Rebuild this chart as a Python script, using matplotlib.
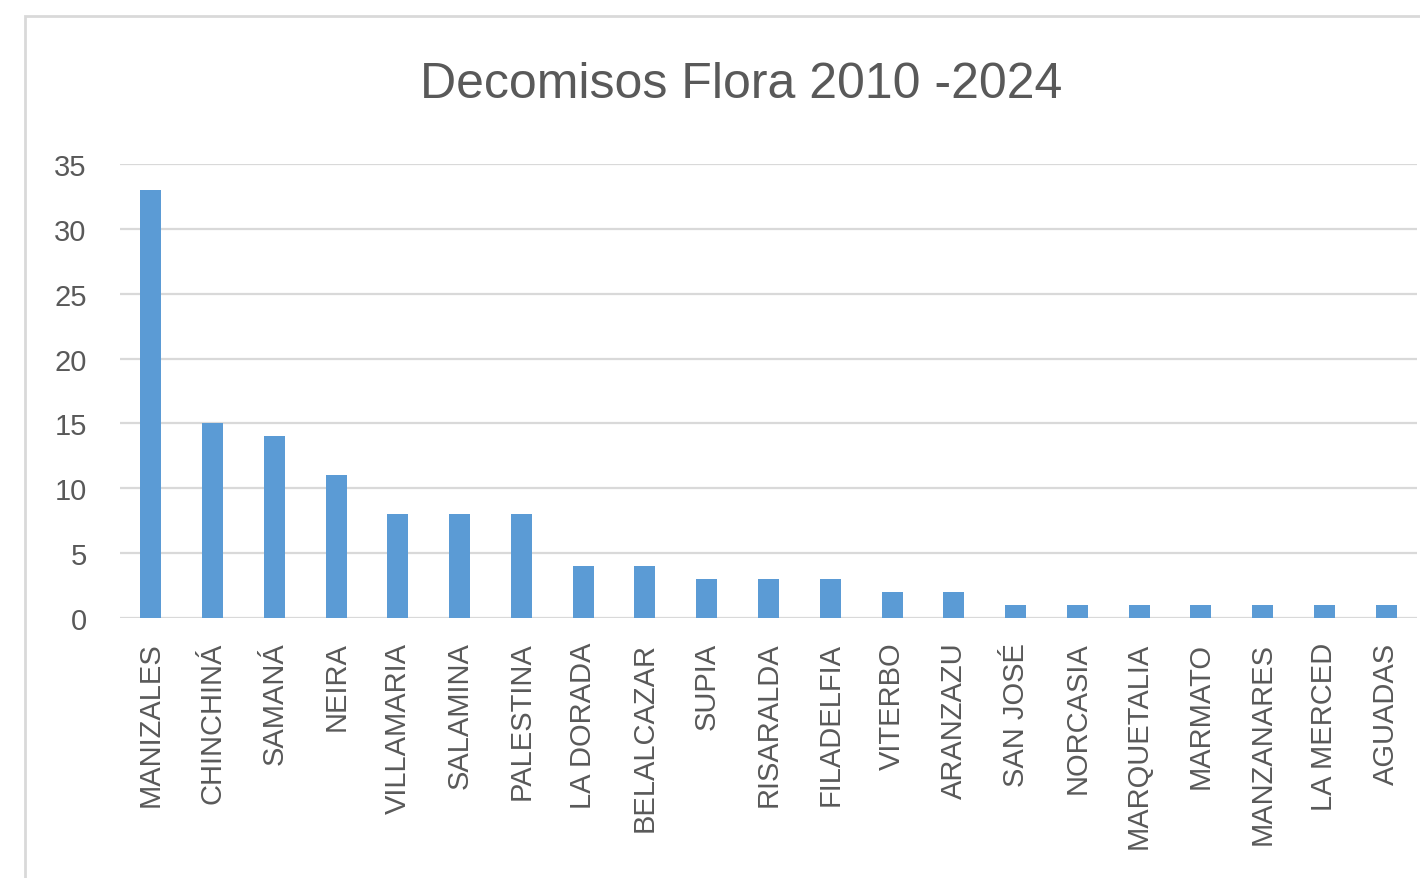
import matplotlib.pyplot as plt
from matplotlib.patches import Rectangle

municipios = ["MANIZALES", "CHINCHINÁ", "SAMANÁ", "NEIRA", "VILLAMARIA", "SALAMINA",
              "PALESTINA", "LA DORADA", "BELALCAZAR", "SUPIA", "RISARALDA", "FILADELFIA",
              "VITERBO", "ARANZAZU", "SAN JOSÉ", "NORCASIA", "MARQUETALIA", "MARMATO",
              "MANZANARES", "LA MERCED", "AGUADAS"]
decomisos = [33, 15, 14, 11, 8, 8, 8, 4, 4, 3, 3, 3, 2, 2, 1, 1, 1, 1, 1, 1, 1]
y_ticks = [0, 5, 10, 15, 20, 25, 30, 35]

BAR_COLOR = "#5B9BD5"
TEXT_COLOR = "#595959"
GRID_COLOR = "#D9D9D9"

plt.rcParams["font.family"] = ["Liberation Sans", "DejaVu Sans"]

fig = plt.figure(figsize=(14.2, 8.79), dpi=100)
W, H = 1420, 879

# chart border (runs off the right and bottom edges)
fig.patches.append(Rectangle((25 / W, -0.05), 1.2, 1 - 17 / H + 0.05,
                             transform=fig.transFigure, fill=False,
                             edgecolor=GRID_COLOR, linewidth=2))

ax = fig.add_axes([120 / W, 1 - 619 / H, 1297 / W, (619 - 165) / H])
x = range(len(municipios))
ax.bar(x, decomisos, width=0.34, color=BAR_COLOR, zorder=3)

ax.set_xlim(-0.5, len(municipios) - 0.5)
ax.set_ylim(0, 35)
ax.set_yticks(y_ticks)
ax.yaxis.grid(True, color=GRID_COLOR, linewidth=1.6)
ax.set_axisbelow(True)
for side in ["top", "right", "left", "bottom"]:
    ax.spines[side].set_visible(False)

ax.set_xticks(list(x))
ax.set_xticklabels(municipios, rotation=90, ha="center", va="top")
ax.tick_params(axis="x", length=0, pad=17, labelsize=21, labelcolor=TEXT_COLOR)
ax.tick_params(axis="y", length=0, pad=24, labelsize=21, labelcolor=TEXT_COLOR)

fig.text(741 / W, 1 - 85 / H, "Decomisos Flora 2010 -2024", ha="center", va="center",
         fontsize=36, color=TEXT_COLOR)

fig.savefig("out.png", dpi=100)
